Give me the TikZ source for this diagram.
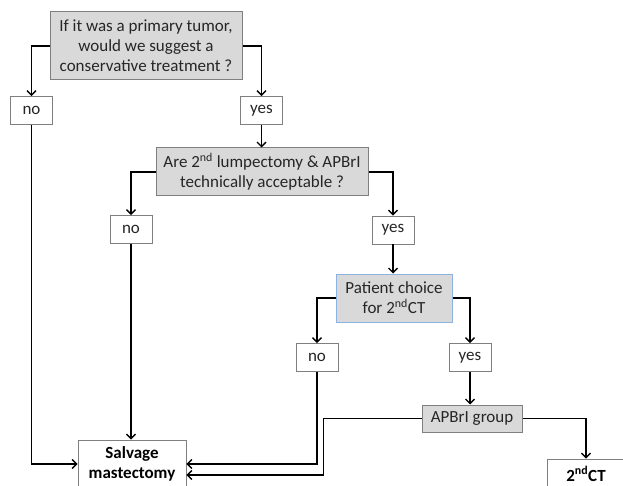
\documentclass[tikz,border=0pt]{standalone}
\usepackage{fontspec}
\setmainfont{Carlito}
\usetikzlibrary{arrows.meta}
\definecolor{boxgray}{HTML}{D9D9D9}
\definecolor{edgegray}{HTML}{7F7F7F}
\definecolor{edgeblue}{HTML}{8DB3E2}
\definecolor{txt}{HTML}{262626}
\tikzset{
  qbox/.style={draw=edgegray, line width=1pt, fill=boxgray, align=center, inner sep=0pt, text=txt, font=\fontsize{17}{20}\selectfont},
  ansbox/.style={draw=edgegray, line width=0.8pt, fill=white, align=center, inner sep=0pt, minimum width=42pt, minimum height=28pt, text=txt, font=\fontsize{17}{20}\selectfont},
  endbox/.style={draw=edgegray, line width=0.8pt, fill=white, align=center, inner sep=0pt, text=black, font=\fontsize{17}{20}\selectfont\bfseries},
  arr/.style={line width=1.4pt, -{Straight Barb[length=4.5pt,width=9pt,line width=1.4pt]}},
  ln/.style={line width=1.4pt}
}
\begin{document}
\begin{tikzpicture}[x=1pt,y=-1pt]
\useasboundingbox (0,0) rectangle (623,486);
\begin{scope}
\clip (0,0) rectangle (623,486);
\node[qbox, minimum width=192pt, minimum height=68pt] (q1) at (146,46) {If it was a primary tumor,\\would we suggest a\\conservative treatment ?};
\node[ansbox] (no1) at (31.5,110.5) {no};
\node[ansbox] (yes1) at (261.5,110.5) {yes};
\node[qbox, minimum width=212pt, minimum height=48pt] (q2) at (262,172) {Are 2\textsuperscript{nd} lumpectomy \& APBrI\\technically acceptable ?};
\node[ansbox] (no2) at (131,229.5) {no};
\node[ansbox] (yes2) at (393,230) {yes};
\node[qbox, draw=edgeblue, minimum width=116pt, minimum height=48pt] (q3) at (394,298) {Patient choice\\for 2\textsuperscript{nd}CT};
\node[ansbox] (no3) at (317,357.5) {no};
\node[ansbox] (yes3) at (470,357.5) {yes};
\node[qbox, minimum width=100pt, minimum height=27pt] (grp) at (472,418.5) {APBrI group};
\node[endbox, minimum width=108pt, minimum height=48pt] (salv) at (132,464) {Salvage\\mastectomy};
\node[endbox, minimum width=78pt, minimum height=30pt] (ct) at (586,474) {2\textsuperscript{nd}CT};

\draw[arr] (q1.west) -| (no1.north);
\draw[arr] (q1.east) -| (yes1.north);
\draw[arr] (yes1.south) -- (yes1.south |- q2.north);
\draw[arr] (q2.west) -| (no2.north);
\draw[arr] (q2.east) -| (yes2.north);
\draw[arr] (yes2.south) -- (yes2.south |- q3.north);
\draw[arr] (q3.west) -| (no3.north);
\draw[arr] (q3.east) -| (yes3.north);
\draw[arr] (yes3.south) -- (yes3.south |- grp.north);
\draw[arr] (no1.south) |- (salv.west);
\draw[arr] (no2.south) -- (no2.south |- salv.north);
\draw[arr] (no3.south) |- (salv.east);
\draw[arr] (grp.west) -- ++(-98,0) |- ([yshift=-11pt]salv.east);
\draw[arr] (grp.east) -| (ct.north);
\end{scope}
\end{tikzpicture}
\end{document}
